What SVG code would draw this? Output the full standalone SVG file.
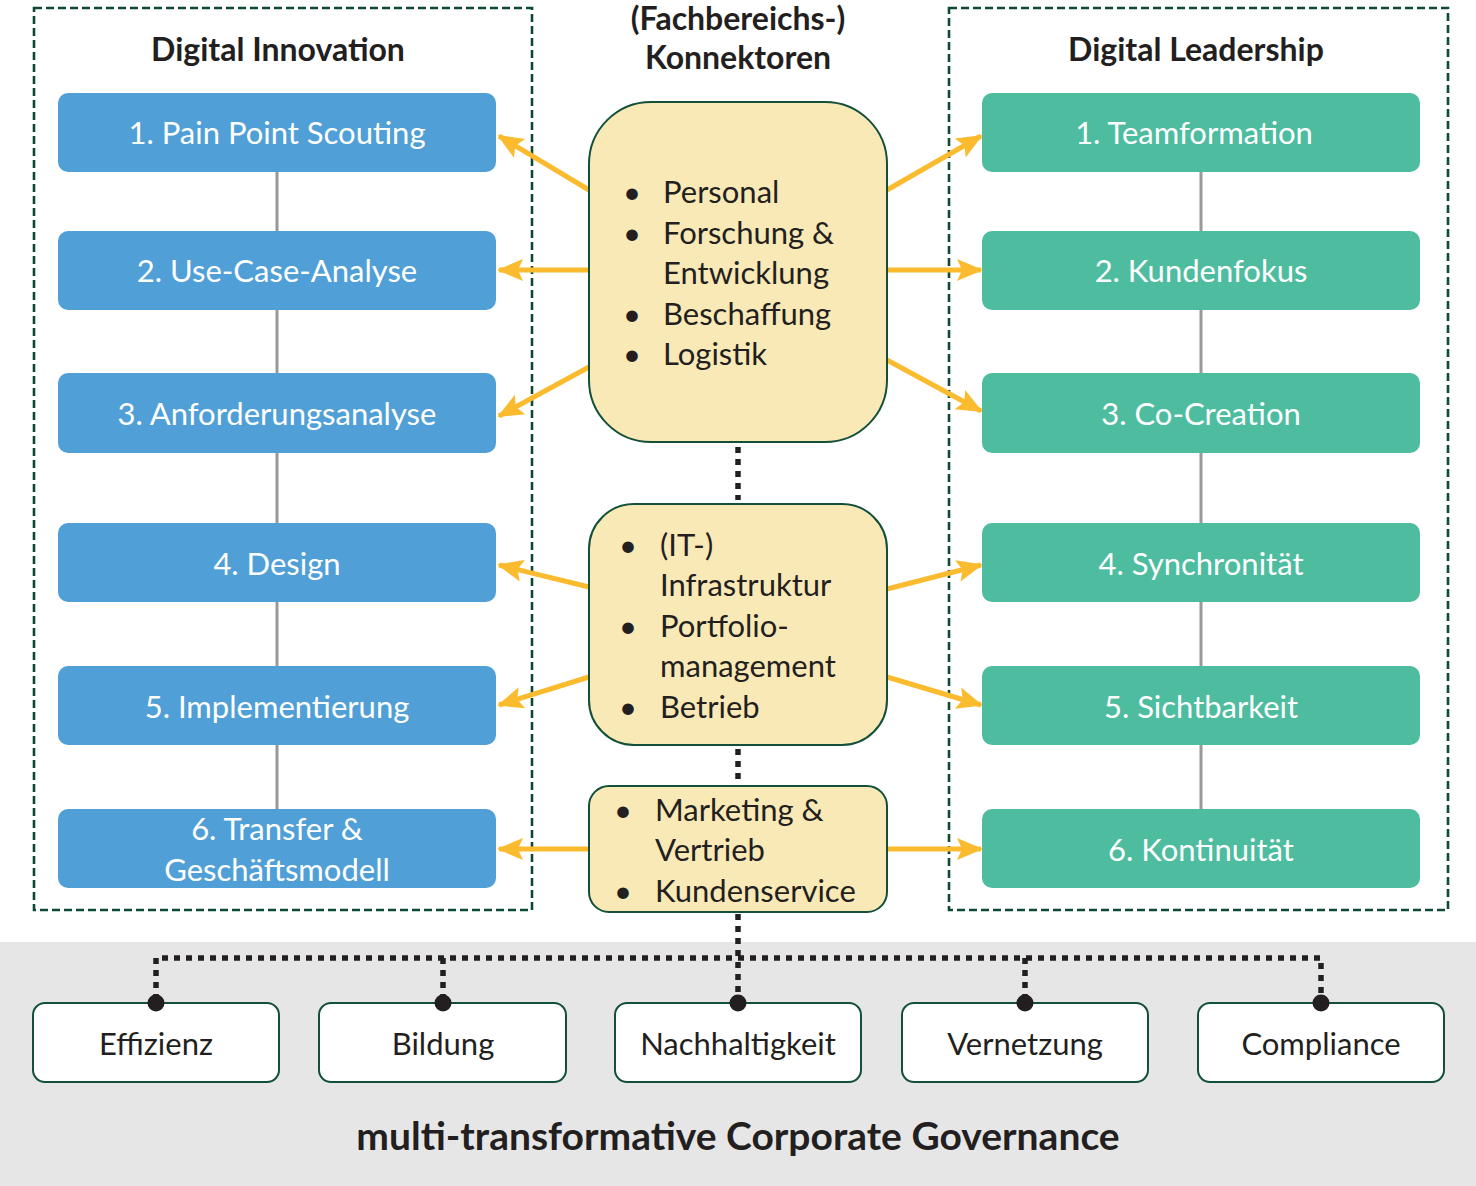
<svg xmlns="http://www.w3.org/2000/svg" width="1476" height="1186" viewBox="0 0 1476 1186">
<style>
text{font-family:Lato,"Open Sans","Liberation Sans",sans-serif;fill:#231f20}
.h{font-size:32px;font-weight:bold;text-anchor:middle}
.bx{font-size:31px;fill:#fff;text-anchor:middle}
.blue{fill:#50a0d7}
.green{fill:#4dbc9f}
.frame{fill:none;stroke:#0e4a33;stroke-width:2.6;stroke-dasharray:8,4}
.yel{fill:#f9e9b6;stroke:#12503a;stroke-width:2}
.yt{font-size:31px}
.arr{stroke:#fbbb2f;stroke-width:5;fill:none;marker-end:url(#ah)}
.dot{stroke:#231f20;stroke-width:5.5;fill:none;stroke-dasharray:6,6}
.gl{stroke:#999;stroke-width:3}
.wb{fill:#fff;stroke:#12503a;stroke-width:2}
.wt{font-size:31px;text-anchor:middle}
</style>
<defs>
<marker id="ah" markerUnits="userSpaceOnUse" markerWidth="26" markerHeight="26" viewBox="0 0 26 26" refX="24" refY="13" orient="auto">
<path d="M0,2 L26,13 L0,24 L5,13 Z" fill="#fbbb2f"/>
</marker>
</defs>
<rect x="0" y="942" width="1476" height="244" fill="#e6e6e6"/>
<g id="frames">
<rect class="frame" x="34" y="8" width="498" height="902"/>
<rect class="frame" x="949" y="8" width="499" height="902"/>
</g>
<g id="titles">
<text class="h" x="278" y="61">Digital Innovation</text>
<text class="h" x="1196" y="61">Digital Leadership</text>
<text class="h" x="738" y="30">(Fachbereichs-)</text>
<text class="h" x="738" y="69">Konnektoren</text>
</g>
<g id="connectors">
<line class="gl" x1="277" y1="172" x2="277" y2="809"/>
<line class="gl" x1="1201" y1="172" x2="1201" y2="809"/>
<line class="arr" x1="589" y1="190" x2="499" y2="136"/>
<line class="arr" x1="589" y1="270" x2="499" y2="270"/>
<line class="arr" x1="589" y1="367" x2="499" y2="416"/>
<line class="arr" x1="589" y1="587" x2="499" y2="565"/>
<line class="arr" x1="589" y1="677" x2="499" y2="705"/>
<line class="arr" x1="589" y1="849" x2="499" y2="849"/>
<line class="arr" x1="887" y1="190" x2="981" y2="136"/>
<line class="arr" x1="887" y1="270" x2="981" y2="270"/>
<line class="arr" x1="887" y1="360" x2="981" y2="411"/>
<line class="arr" x1="887" y1="589" x2="981" y2="565"/>
<line class="arr" x1="887" y1="677" x2="981" y2="705"/>
<line class="arr" x1="887" y1="849" x2="981" y2="849"/>
<line class="dot" x1="738" y1="447" x2="738" y2="500"/>
<line class="dot" x1="738" y1="749" x2="738" y2="786"/>
<line class="dot" x1="738" y1="914" x2="738" y2="1000"/>
<path class="dot" d="M156,1000 V958 H1321 V1000"/>
<line class="dot" x1="443" y1="958" x2="443" y2="1000"/>
<line class="dot" x1="1025" y1="958" x2="1025" y2="1000"/>
</g>
<g id="di1"><rect class="blue" x="58" y="93" width="438" height="79" rx="10"/><text class="bx" x="277" y="144">1. Pain Point Scouting</text></g>
<g id="di2"><rect class="blue" x="58" y="231" width="438" height="79" rx="10"/><text class="bx" x="277" y="282">2. Use-Case-Analyse</text></g>
<g id="di3"><rect class="blue" x="58" y="373" width="438" height="80" rx="10"/><text class="bx" x="277" y="425">3. Anforderungsanalyse</text></g>
<g id="di4"><rect class="blue" x="58" y="523" width="438" height="79" rx="10"/><text class="bx" x="277" y="575">4. Design</text></g>
<g id="di5"><rect class="blue" x="58" y="666" width="438" height="79" rx="10"/><text class="bx" x="277" y="718">5. Implementierung</text></g>
<g id="di6"><rect class="blue" x="58" y="809" width="438" height="79" rx="10"/><text class="bx" x="277" y="840">6. Transfer &amp;</text><text class="bx" x="277" y="881">Geschäftsmodell</text></g>
<g id="dl1"><rect class="green" x="982" y="93" width="438" height="79" rx="10"/><text class="bx" x="1194" y="144">1. Teamformation</text></g>
<g id="dl2"><rect class="green" x="982" y="231" width="438" height="79" rx="10"/><text class="bx" x="1201" y="282">2. Kundenfokus</text></g>
<g id="dl3"><rect class="green" x="982" y="373" width="438" height="80" rx="10"/><text class="bx" x="1201" y="425">3. Co-Creation</text></g>
<g id="dl4"><rect class="green" x="982" y="523" width="438" height="79" rx="10"/><text class="bx" x="1201" y="575">4. Synchronität</text></g>
<g id="dl5"><rect class="green" x="982" y="666" width="438" height="79" rx="10"/><text class="bx" x="1201" y="718">5. Sichtbarkeit</text></g>
<g id="dl6"><rect class="green" x="982" y="809" width="438" height="79" rx="10"/><text class="bx" x="1201" y="861">6. Kontinuität</text></g>
<g id="k1"><rect class="yel" x="589" y="102" width="298" height="340" rx="62"/>
<text class="yt" x="623" y="203">•</text><text class="yt" x="663" y="203">Personal</text>
<text class="yt" x="623" y="244">•</text><text class="yt" x="663" y="244">Forschung &amp;</text>
<text class="yt" x="663" y="284">Entwicklung</text>
<text class="yt" x="623" y="325">•</text><text class="yt" x="663" y="325">Beschaffung</text>
<text class="yt" x="623" y="365">•</text><text class="yt" x="663" y="365">Logistik</text></g>
<g id="k2"><rect class="yel" x="589" y="504" width="298" height="241" rx="45"/>
<text class="yt" x="619" y="556">•</text><text class="yt" x="660" y="556">(IT-)</text>
<text class="yt" x="660" y="596">Infrastruktur</text>
<text class="yt" x="619" y="637">•</text><text class="yt" x="660" y="637">Portfolio-</text>
<text class="yt" x="660" y="677">management</text>
<text class="yt" x="619" y="718">•</text><text class="yt" x="660" y="718">Betrieb</text></g>
<g id="k3"><rect class="yel" x="589" y="786" width="298" height="126" rx="20"/>
<text class="yt" x="614" y="821">•</text><text class="yt" x="655" y="821">Marketing &amp;</text>
<text class="yt" x="655" y="861">Vertrieb</text>
<text class="yt" x="614" y="902">•</text><text class="yt" x="655" y="902">Kundenservice</text></g>
<g id="g1"><rect class="wb" x="33" y="1003" width="246" height="79" rx="12"/><text class="wt" x="156" y="1055">Effizienz</text></g>
<g id="g2"><rect class="wb" x="319" y="1003" width="247" height="79" rx="12"/><text class="wt" x="443" y="1055">Bildung</text></g>
<g id="g3"><rect class="wb" x="615" y="1003" width="246" height="79" rx="12"/><text class="wt" x="738" y="1055">Nachhaltigkeit</text></g>
<g id="g4"><rect class="wb" x="902" y="1003" width="246" height="79" rx="12"/><text class="wt" x="1025" y="1055">Vernetzung</text></g>
<g id="g5"><rect class="wb" x="1198" y="1003" width="246" height="79" rx="12"/><text class="wt" x="1321" y="1055">Compliance</text></g>
<g id="dots" fill="#231f20">
<circle cx="156" cy="1003" r="8.5"/><circle cx="443" cy="1003" r="8.5"/><circle cx="738" cy="1003" r="8.5"/><circle cx="1025" cy="1003" r="8.5"/><circle cx="1321" cy="1003" r="8.5"/>
</g>
<text x="738" y="1150" style="font-size:39px;font-weight:bold;text-anchor:middle">multi-transformative Corporate Governance</text>
</svg>
